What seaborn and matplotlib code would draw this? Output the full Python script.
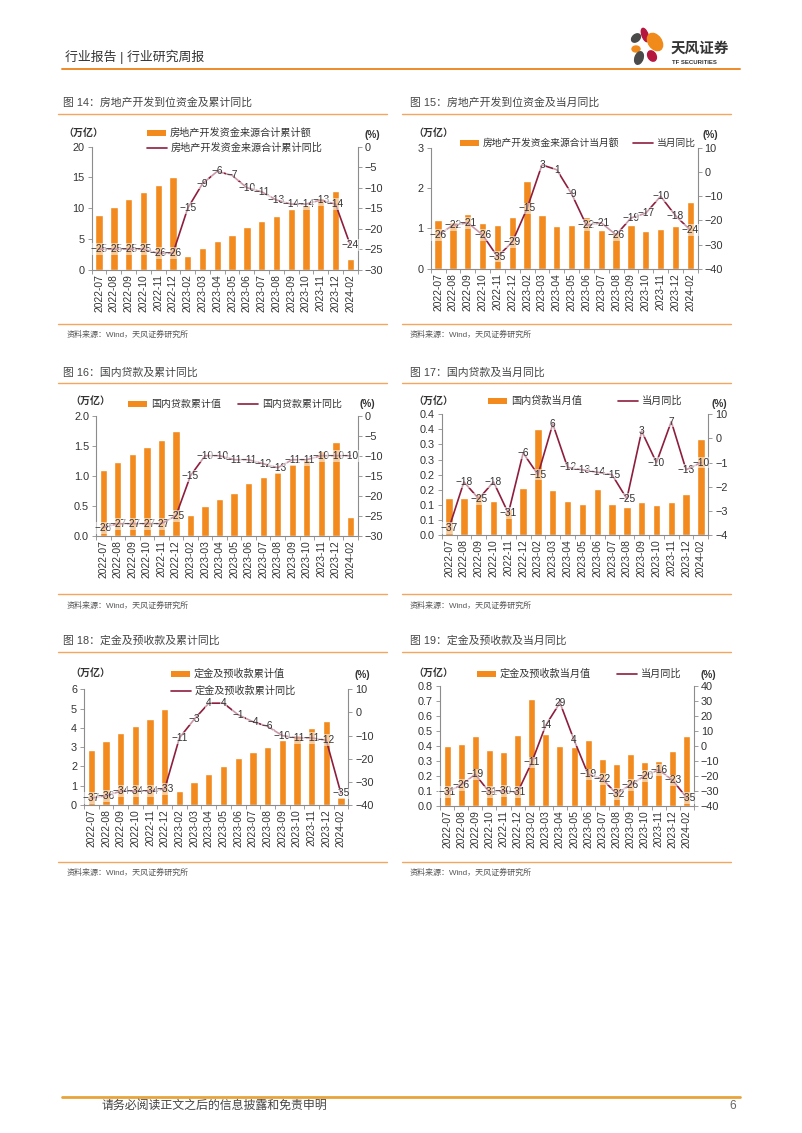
import numpy as np
import pandas as pd
import matplotlib
matplotlib.use("Agg")
import matplotlib.pyplot as plt
import seaborn as sns
from matplotlib.patches import Rectangle, Ellipse

# ---------------- data ----------------
months = ["2022-07", "2022-08", "2022-09", "2022-10", "2022-11", "2022-12",
          "2023-02", "2023-03", "2023-04", "2023-05", "2023-06", "2023-07",
          "2023-08", "2023-09", "2023-10", "2023-11", "2023-12", "2024-02"]

# Fig 14: cumulative funds (trn yuan) and cumulative YoY (%)
f14_bar = [8.9, 10.2, 11.5, 12.6, 13.8, 15.0, 2.3, 3.6, 4.7, 5.6, 7.0, 7.9,
           8.8, 9.8, 10.6, 11.6, 12.8, 1.7]
f14_yoy = [-25, -25, -25, -25, -26, -26, -15, -9, -6, -7, -10, -11,
           -13, -14, -14, -13, -14, -24]

# Fig 15: monthly funds and monthly YoY
f15_bar = [1.21, 1.15, 1.36, 1.13, 1.09, 1.29, 2.17, 1.34, 1.06, 1.09, 1.28, 0.96,
           0.90, 1.09, 0.94, 0.99, 1.06, 1.65]
f15_yoy = [-26, -22, -21, -26, -35, -29, -15, 3, 1, -9, -22, -21,
           -26, -19, -17, -10, -18, -24]

# Fig 16: domestic loans cumulative and cumulative YoY
f16_bar = [1.10, 1.23, 1.37, 1.48, 1.59, 1.74, 0.35, 0.50, 0.61, 0.72, 0.88, 0.98,
           1.06, 1.20, 1.27, 1.42, 1.56, 0.31]
f16_yoy = [-28, -27, -27, -27, -27, -25, -15, -10, -10, -11, -11, -12,
           -13, -11, -11, -10, -10, -10]

# Fig 17: domestic loans monthly and monthly YoY
f17_bar = [0.122, 0.124, 0.135, 0.113, 0.086, 0.157, 0.352, 0.149, 0.114, 0.103,
           0.152, 0.104, 0.092, 0.110, 0.101, 0.110, 0.136, 0.317]
f17_yoy = [-37, -18, -25, -18, -31, -6, -15, 6, -12, -13, -14, -15,
           -25, 3, -10, 7, -13, -10]

# Fig 18: deposits & advance payments cumulative and cumulative YoY
f18_bar = [2.85, 3.30, 3.75, 4.12, 4.48, 4.97, 0.71, 1.19, 1.59, 2.00, 2.46, 2.75,
           3.03, 3.37, 3.65, 4.00, 4.38, 0.40]
f18_yoy = [-37, -36, -34, -34, -34, -33, -11, -3, 4, 4, -1, -4,
           -6, -10, -11, -11, -12, -35]

# Fig 19: deposits & advance payments monthly and monthly YoY
f19_bar = [0.400, 0.416, 0.465, 0.371, 0.360, 0.472, 0.713, 0.480, 0.402, 0.393,
           0.442, 0.313, 0.282, 0.346, 0.295, 0.300, 0.366, 0.467]
f19_yoy = [-31, -26, -19, -31, -30, -31, -11, 14, 29, 4, -19, -22,
           -32, -26, -20, -16, -23, -35]

titles = ["图 14：房地产开发到位资金及累计同比", "图 15：房地产开发到位资金及当月同比",
          "图 16：国内贷款及累计同比", "图 17：国内贷款及当月同比",
          "图 18：定金及预收款及累计同比", "图 19：定金及预收款及当月同比"]
bar_names = ["房地产开发资金来源合计累计额", "房地产开发资金来源合计当月额",
             "国内贷款累计值", "国内贷款当月值", "定金及预收款累计值", "定金及预收款当月值"]
line_names = ["房地产开发资金来源合计累计同比", "当月同比", "国内贷款累计同比",
              "当月同比", "定金及预收款累计同比", "当月同比"]
source = "资料来源：Wind，天风证券研究所"
header = "行业报告 | 行业研究周报"
footer = "请务必阅读正文之后的信息披露和免责申明"

# ---------------- style ----------------
sns.set_theme(style="white")
plt.rcParams["font.family"] = ["Liberation Sans", "Noto Sans CJK SC", "DejaVu Sans"]
plt.rcParams["axes.unicode_minus"] = True

W, H = 802, 1133
fig = plt.figure(figsize=(W / 100, H / 100), dpi=100)
fig.patch.set_facecolor("white")

BAR = "#F28A1E"
LINE = "#8E1E3E"
SPINE = "#8c8c8c"
TXT = "#333333"
ORANGE_LINE = "#F4A65E"


def rect(l, t, r, b):
    return [l / W, 1 - b / H, (r - l) / W, (b - t) / H]


def mfmt(v):
    return f"{v:d}".replace("-", "\u2212")


def chart(box, bars, yoy, ylim, yticks, ylabels, y2lim, y2ticks, y2labels):
    ax = fig.add_axes(rect(*box))
    ax.set_facecolor("none")
    n = len(months)
    df = pd.DataFrame({"m": months, "v": bars, "y": yoy, "i": np.arange(n)})
    sns.barplot(data=df, x="m", y="v", ax=ax, color=BAR, width=0.5, saturation=1)
    ax2 = ax.twinx()
    ax2.set_facecolor("none")
    sns.lineplot(data=df, x="i", y="y", ax=ax2, color=LINE, linewidth=1.2)
    for i, v in enumerate(yoy):
        ax2.text(i, v, mfmt(v), ha="center", va="center", fontsize=7.3, color=TXT,
                 bbox=dict(boxstyle="square,pad=0.08", fc="white", ec="none", alpha=0.55),
                 zorder=5)
    ax.set_xlim(-0.5, n - 0.5)
    ax.set_ylim(*ylim)
    ax.set_yticks(yticks)
    ax.set_yticklabels(ylabels)
    ax2.set_ylim(*y2lim)
    ax2.set_yticks(y2ticks)
    ax2.set_yticklabels(y2labels)
    ax.set_xticks(np.arange(n))
    ax.set_xticklabels(months, rotation=90)
    ax.set_xticks(np.arange(-0.5, n, 1), minor=True)
    for a in (ax, ax2):
        a.set_xlabel("")
        a.set_ylabel("")
        a.grid(False)
    ax.tick_params(axis="x", which="major", length=0, pad=3, labelsize=7.4, labelcolor=TXT)
    ax.tick_params(axis="x", which="minor", bottom=True, length=3, width=0.6, color=SPINE)
    ax.tick_params(axis="y", left=True, length=3, width=0.6, color=SPINE, pad=2,
                   labelsize=7.8, labelcolor=TXT)
    ax2.tick_params(axis="y", right=True, length=3, width=0.6, color=SPINE, pad=2,
                    labelsize=7.8, labelcolor=TXT)
    for a in (ax, ax2):
        for s in a.spines.values():
            s.set_color(SPINE)
            s.set_linewidth(0.8)
        a.spines["top"].set_visible(False)
    ax.spines["right"].set_visible(False)
    ax2.spines["left"].set_visible(False)
    ax2.spines["bottom"].set_visible(False)
    return ax, ax2


chart((91.7, 146.7, 357.7, 269.7), f14_bar, f14_yoy, (0, 20), [0, 5, 10, 15, 20],
      ["0", "5", "10", "15", "20"], (-30, 0), [-30, -25, -20, -15, -10, -5, 0],
      ["\u221230", "\u221225", "\u221220", "\u221215", "\u221210", "\u22125", "0"])
chart((430.7, 148, 697.7, 268.7), f15_bar, f15_yoy, (0, 3), [0, 1, 2, 3],
      ["0", "1", "2", "3"], (-40, 10), [-40, -30, -20, -10, 0, 10],
      ["\u221240", "\u221230", "\u221220", "\u221210", "0", "10"])
chart((96, 415.7, 357.7, 535.7), f16_bar, f16_yoy, (0, 2), [0, 0.5, 1, 1.5, 2],
      ["0.0", "0.5", "1.0", "1.5", "2.0"], (-30, 0), [-30, -25, -20, -15, -10, -5, 0],
      ["\u221230", "\u221225", "\u221220", "\u221215", "\u221210", "\u22125", "0"])
chart((441.7, 414.3, 708.3, 535), f17_bar, f17_yoy, (0, 0.4),
      [0, 0.05, 0.1, 0.15, 0.2, 0.25, 0.3, 0.35, 0.4],
      ["0.0", "0.1", "0.1", "0.2", "0.2", "0.3", "0.3", "0.4", "0.4"],
      (-40, 10), [-40, -30, -20, -10, 0, 10],
      ["\u22124", "\u22123", "\u22122", "\u22121", "0", "10"])
chart((84, 689.3, 348.3, 805), f18_bar, f18_yoy, (0, 6), [0, 1, 2, 3, 4, 5, 6],
      ["0", "1", "2", "3", "4", "5", "6"], (-40, 10), [-40, -30, -20, -10, 0, 10],
      ["\u221240", "\u221230", "\u221220", "\u221210", "0", "10"])
chart((440, 686.3, 694, 805.7), f19_bar, f19_yoy, (0, 0.8),
      [0, 0.1, 0.2, 0.3, 0.4, 0.5, 0.6, 0.7, 0.8],
      ["0.0", "0.1", "0.2", "0.3", "0.4", "0.5", "0.6", "0.7", "0.8"],
      (-40, 40), [-40, -30, -20, -10, 0, 10, 20, 30, 40],
      ["\u221240", "\u221230", "\u221220", "\u221210", "0", "10", "20", "30", "40"])

# ---------------- page decorations ----------------
pg = fig.add_axes([0, 0, 1, 1], zorder=10)
pg.set_xlim(0, W)
pg.set_ylim(H, 0)
pg.axis("off")
pg.patch.set_visible(False)

# header
pg.text(65, 57, header, fontsize=9.3, color=TXT, va="center", ha="left")
pg.plot([62, 740], [68.5, 68.5], color="#EE8A2A", lw=1.4)
for (cx, cy, w, h, ang, col) in [(645, 35, 6, 14, -20, "#B5173F"),
                                 (655, 42, 13, 19, -35, "#F08A1A"),
                                 (636, 38, 7, 10, 50, "#4A4A4A"),
                                 (636, 49, 8, 6, 0, "#F08A1A"),
                                 (639, 58, 8, 13, 20, "#4A4A4A"),
                                 (652, 56, 8, 11, -30, "#B5173F")]:
    pg.add_patch(Ellipse((cx, cy), w, h, angle=ang, color=col))
pg.text(671, 48, "天风证券", fontsize=10.5, fontweight="bold", color="#333333",
        va="center", ha="left", family=["Noto Sans CJK SC"])
pg.text(672, 62.5, "TF SECURITIES", fontsize=4.3, fontweight="bold", color="#333333",
        va="center", ha="left")

# titles / lines / sources
col_x = [(58, 387, 63, 67), (402, 731, 410, 410)]
rows = [(103, 114, 324, 335), (373, 383, 594, 606), (641, 652, 862, 873)]
k = 0
for (ty, uy, sy, sty) in rows:
    for (x0, x1, tx, sx) in col_x:
        pg.text(tx, ty, titles[k], fontsize=7.8, color="#444444", va="center", ha="left")
        pg.plot([x0, x1], [uy, uy], color=ORANGE_LINE, lw=1.0)
        pg.plot([x0, x1], [sy, sy], color=ORANGE_LINE, lw=1.0)
        pg.text(sx, sty, source, fontsize=5.8, color="#555555", va="center", ha="left")
        k += 1

# unit labels
units = [((63, 133), (372, 135)), ((413, 133), (710, 135)),
         ((70, 401), (367, 404)), ((413, 401), (719, 404)),
         ((70, 673), (362, 675)), ((413, 673), (708, 675))]
for (u1, u2) in units:
    pg.text(u1[0], u1[1], "（万亿）", fontsize=7.2, fontweight="bold", color=TXT,
            va="center", ha="left", family=["Noto Sans CJK SC"])
    pg.text(u2[0], u2[1], "(%)", fontsize=7.2, fontweight="bold", color=TXT,
            va="center", ha="center")

# legends (manual): (bar patch x0, y), (line x0, y), font size
legs = [((147, 133), (147, 148), 7.3), ((460, 143), (633, 143), 7.0),
        ((128, 404), (238, 404), 7.2), ((488, 401), (618, 401), 7.3),
        ((171, 674), (171, 691), 7.3), ((477, 674), (617, 674), 7.3)]
for j, ((bx, by), (lx, ly), fs) in enumerate(legs):
    pg.add_patch(Rectangle((bx, by - 3), 19, 6, color=BAR, lw=0))
    pg.text(bx + 23, by, bar_names[j], fontsize=fs, color=TXT, va="center", ha="left")
    pg.plot([lx, lx + 20], [ly, ly], color=LINE, lw=1.2)
    pg.text(lx + 24, ly, line_names[j], fontsize=fs, color=TXT, va="center", ha="left")

# footer
pg.plot([62, 740], [1097, 1097], color="#E8A33A", lw=2.0)
pg.text(102, 1106, footer, fontsize=8.6, color="#444444", va="center", ha="left")
pg.text(733, 1106, "6", fontsize=8.6, color="#666666", va="center", ha="center")

fig.savefig("out.png", dpi=100, facecolor="white")
